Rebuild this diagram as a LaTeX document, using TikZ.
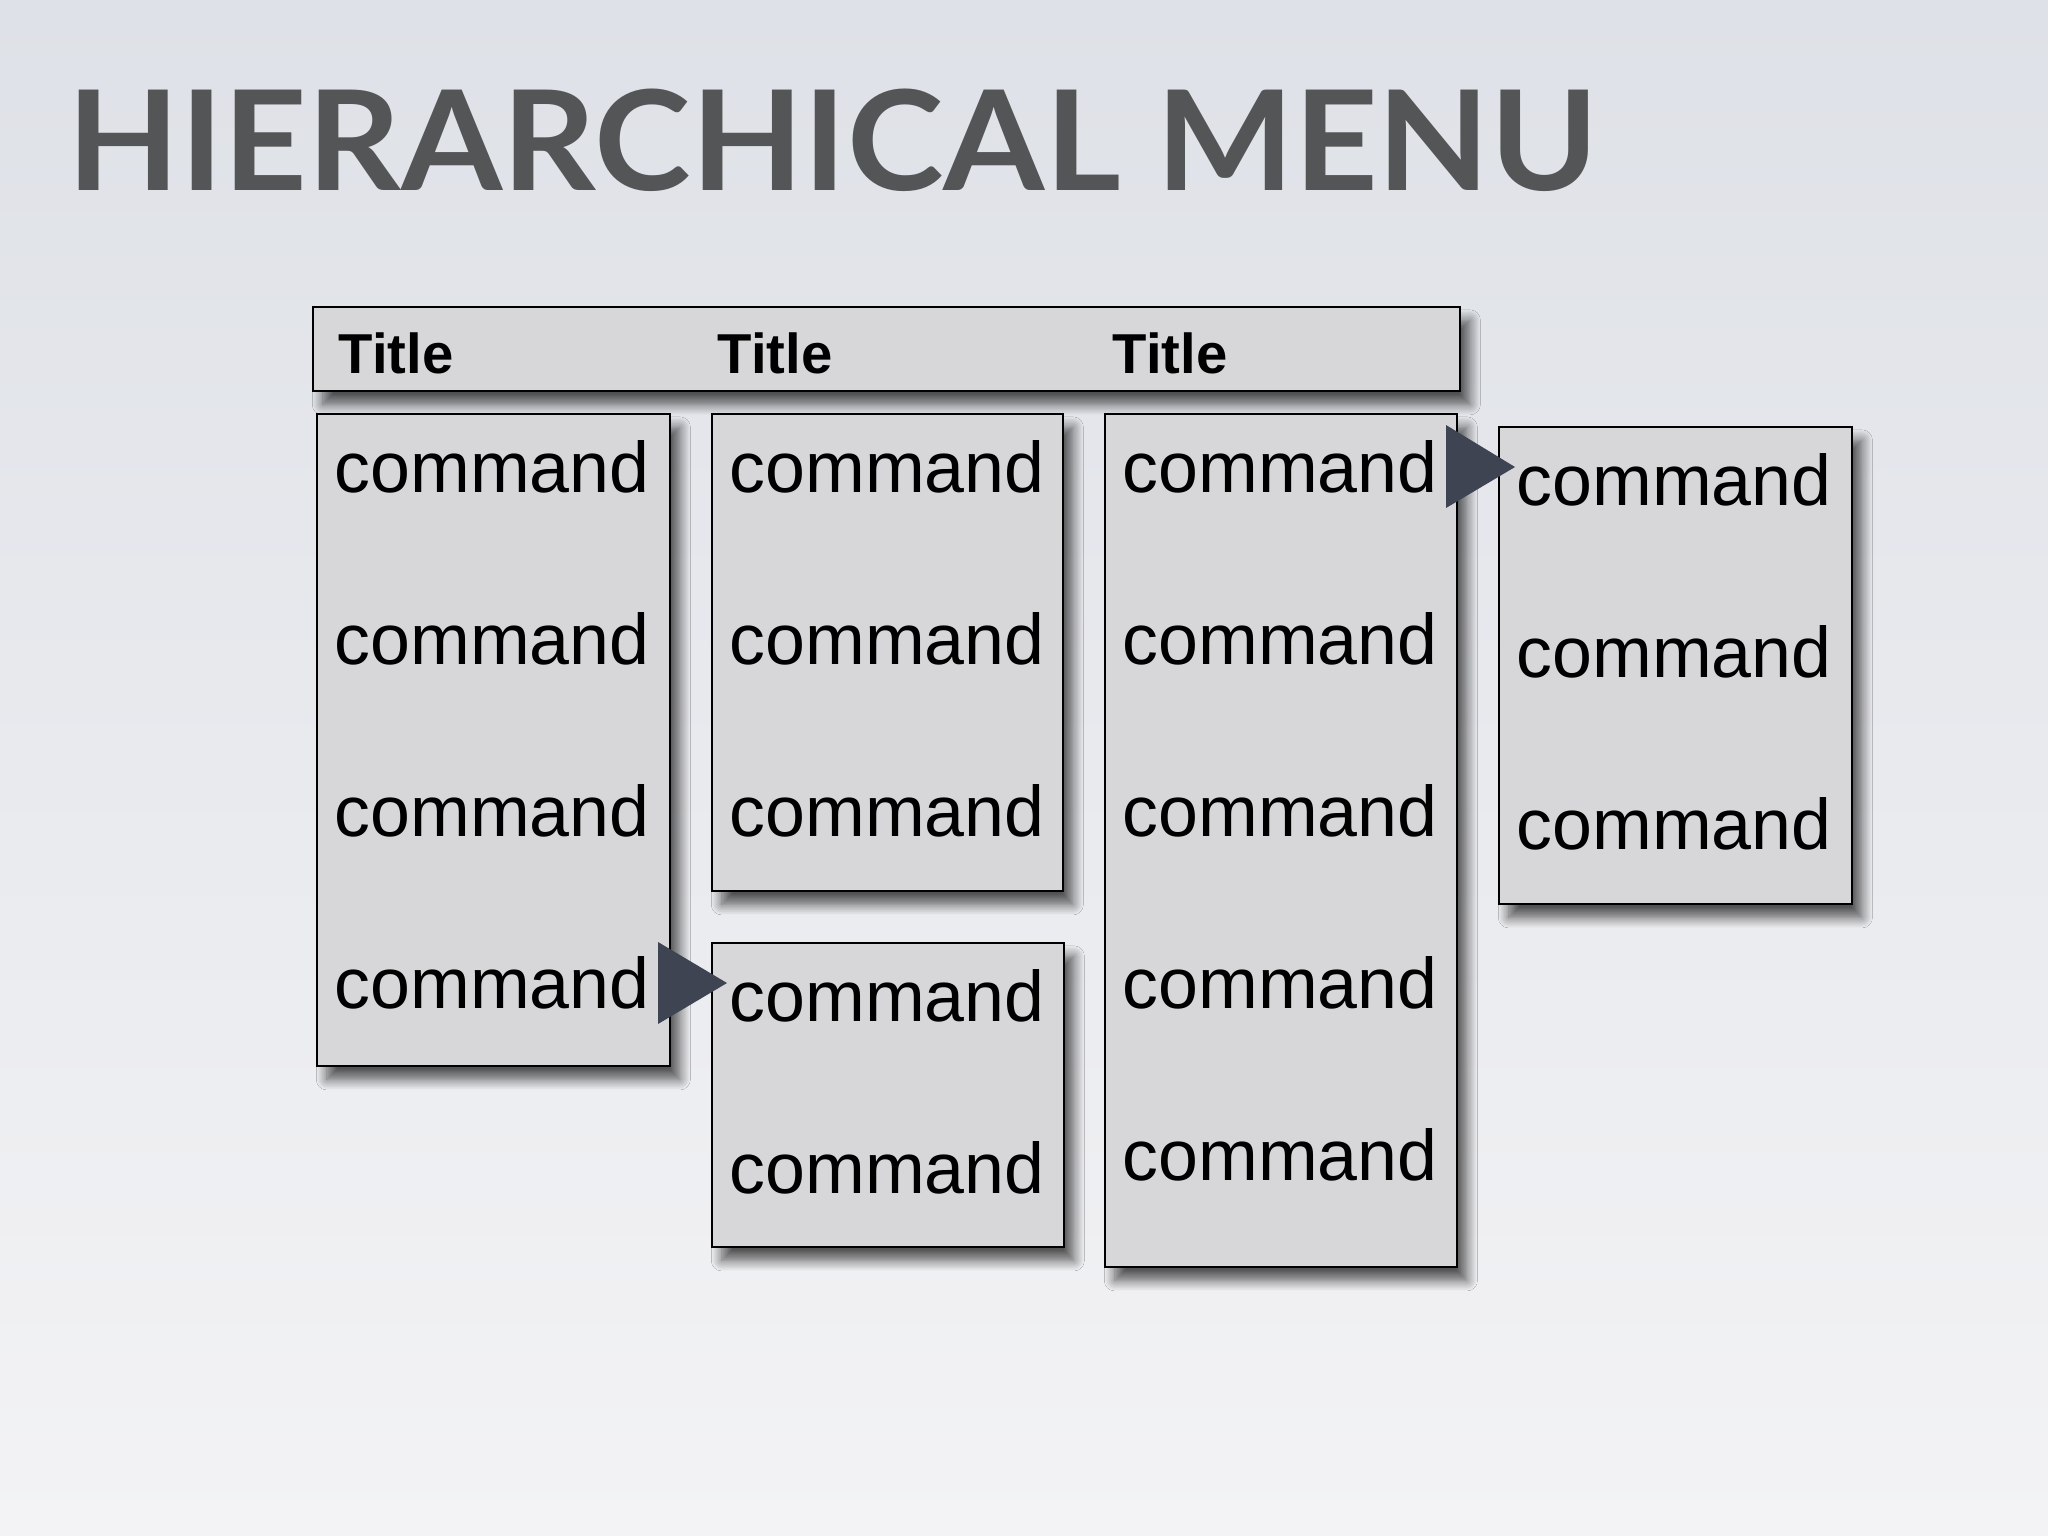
\documentclass[tikz,border=0pt]{standalone}
\usepackage{fontspec}
\setmainfont{Liberation Sans}
\newfontfamily\headfont[FakeStretch=1.05]{Lato}
\usetikzlibrary{shadows.blur}
\definecolor{bgtop}{HTML}{DEE1E7}
\definecolor{bgbot}{HTML}{F3F3F5}
\definecolor{menugray}{HTML}{D7D6D9}
\definecolor{headgray}{HTML}{545556}
\definecolor{arrowgray}{HTML}{3E4452}
\tikzset{
    menubox/.style={draw=black, line width=0.7pt, fill=menugray,
        blur shadow={shadow xshift=2.8pt, shadow yshift=-3.8pt,
            shadow blur radius=3pt, shadow blur steps=10, shadow opacity=65}},
    cmd/.style={anchor=base west, inner sep=0pt, font=\fontsize{20.4}{24}\selectfont},
    ttl/.style={anchor=base west, inner sep=0pt, font=\fontsize{16}{19}\selectfont\bfseries},
    subarrow/.style={fill=arrowgray}
}

\begin{document}
\begin{tikzpicture}[x=0.01cm, y=-0.01cm]
    \useasboundingbox (0,0) rectangle (2048,1536);
    \shade[top color=bgtop, bottom color=bgbot] (0,0) rectangle (2048,1536);
    \node[anchor=base west, inner sep=0pt, text=headgray, font=\headfont\bfseries\fontsize{39.5}{46}\selectfont] (head) at (67,190) {HIERARCHICAL MENU};
    % menu bar
    \filldraw[menubox] (313,307) rectangle (1460,391);
    \node[ttl] (t1) at (338,373) {Title};
    \node[ttl] (t2) at (717,373) {Title};
    \node[ttl] (t3) at (1112,373) {Title};
    % pull-down menus
    \filldraw[menubox] (317,414) rectangle (670,1066);
    \filldraw[menubox] (712,414) rectangle (1063,891);
    \filldraw[menubox] (712,943) rectangle (1064,1247);
    \filldraw[menubox] (1105,414) rectangle (1457,1267);
    \filldraw[menubox] (1499,427) rectangle (1852,904);
    \foreach \y [count=\i] in {492,664,836,1008}
        \node[cmd] (a\i) at (334,\y) {command};
    \foreach \y [count=\i] in {492,664,836}
        \node[cmd] (b\i) at (729,\y) {command};
    \foreach \y [count=\i] in {1021,1193}
        \node[cmd] (c\i) at (729,\y) {command};
    \foreach \y [count=\i] in {492,664,836,1008,1180}
        \node[cmd] (d\i) at (1122,\y) {command};
    \foreach \y [count=\i] in {505,677,849}
        \node[cmd] (e\i) at (1516,\y) {command};
    % submenu arrows
    \fill[subarrow] (658,942) -- (658,1024) -- (727,983) -- cycle;
    \fill[subarrow] (1446,425) -- (1446,508) -- (1515,467) -- cycle;
\end{tikzpicture}
\end{document}
